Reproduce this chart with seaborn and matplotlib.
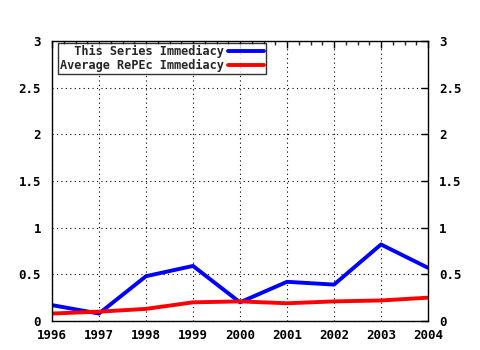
import matplotlib
matplotlib.use('Agg')
import matplotlib.pyplot as plt
import seaborn as sns
import pandas as pd
from matplotlib.ticker import MultipleLocator

years = [1996, 1997, 1998, 1999, 2000, 2001, 2002, 2003, 2004]
series_imm = [0.17, 0.08, 0.48, 0.59, 0.20, 0.42, 0.39, 0.82, 0.57]
repec_imm = [0.08, 0.10, 0.13, 0.20, 0.21, 0.19, 0.21, 0.22, 0.25]
labels = ['  This Series Immediacy', 'Average RePEc Immediacy']
yticks = [0, 0.5, 1, 1.5, 2, 2.5, 3]
ytick_labels = ['0', '0.5', '1', '1.5', '2', '2.5', '3']

df = pd.DataFrame({'year': years * 2,
                   'value': series_imm + repec_imm,
                   'series': [labels[0]] * len(years) + [labels[1]] * len(years)})

sns.set_style('white')
plt.rcParams['font.family'] = ['DejaVu Sans Mono']
plt.rcParams['font.weight'] = 'bold'

fig = plt.figure(figsize=(4.8, 3.5), dpi=100)
ax = fig.add_axes([52 / 480, 1 - 321 / 350, 376 / 480, 280 / 350])

sns.lineplot(data=df, x='year', y='value', hue='series',
             palette={labels[0]: '#0000ff', labels[1]: '#ff0000'},
             linewidth=2.8, ax=ax)

ax.set_xlim(1996, 2004)
ax.set_ylim(0, 3)
ax.set_xlabel('')
ax.set_ylabel('')
ax.set_xticks(years)
ax.set_xticklabels([str(y) for y in years])
ax.xaxis.set_minor_locator(MultipleLocator(0.25))
ax.set_yticks(yticks)
ax.set_yticklabels(ytick_labels)
ax.grid(True, which='major', color='black', linestyle=(0, (1, 3)), linewidth=0.8)
for s in ax.spines.values():
    s.set_color('black')
    s.set_linewidth(1)
ax.tick_params(axis='both', which='major', direction='in', length=5, width=1,
               labelsize=9, top=True, right=True, labelright=True, colors='black')
ax.tick_params(axis='x', which='minor', direction='in', length=3, width=1, top=True)
ax.tick_params(axis='x', which='major', pad=6)
ax.tick_params(axis='y', which='major', pad=8)
for t in ax.get_yticklabels() + ax.get_xticklabels():
    t.set_fontweight('bold')

leg = ax.legend(loc='upper left', bbox_to_anchor=(58 / 480, 1 - 43 / 350),
                bbox_transform=fig.transFigure, borderaxespad=0,
                markerfirst=False, frameon=True, fancybox=False,
                fontsize=8.6, handlelength=3.0, borderpad=0.15, labelspacing=0.12,
                handletextpad=0.4)
leg.get_frame().set_edgecolor('black')
leg.get_frame().set_linewidth(1)
for t in leg.get_texts():
    t.set_fontweight('bold')

fig.savefig('out.png', dpi=100)
